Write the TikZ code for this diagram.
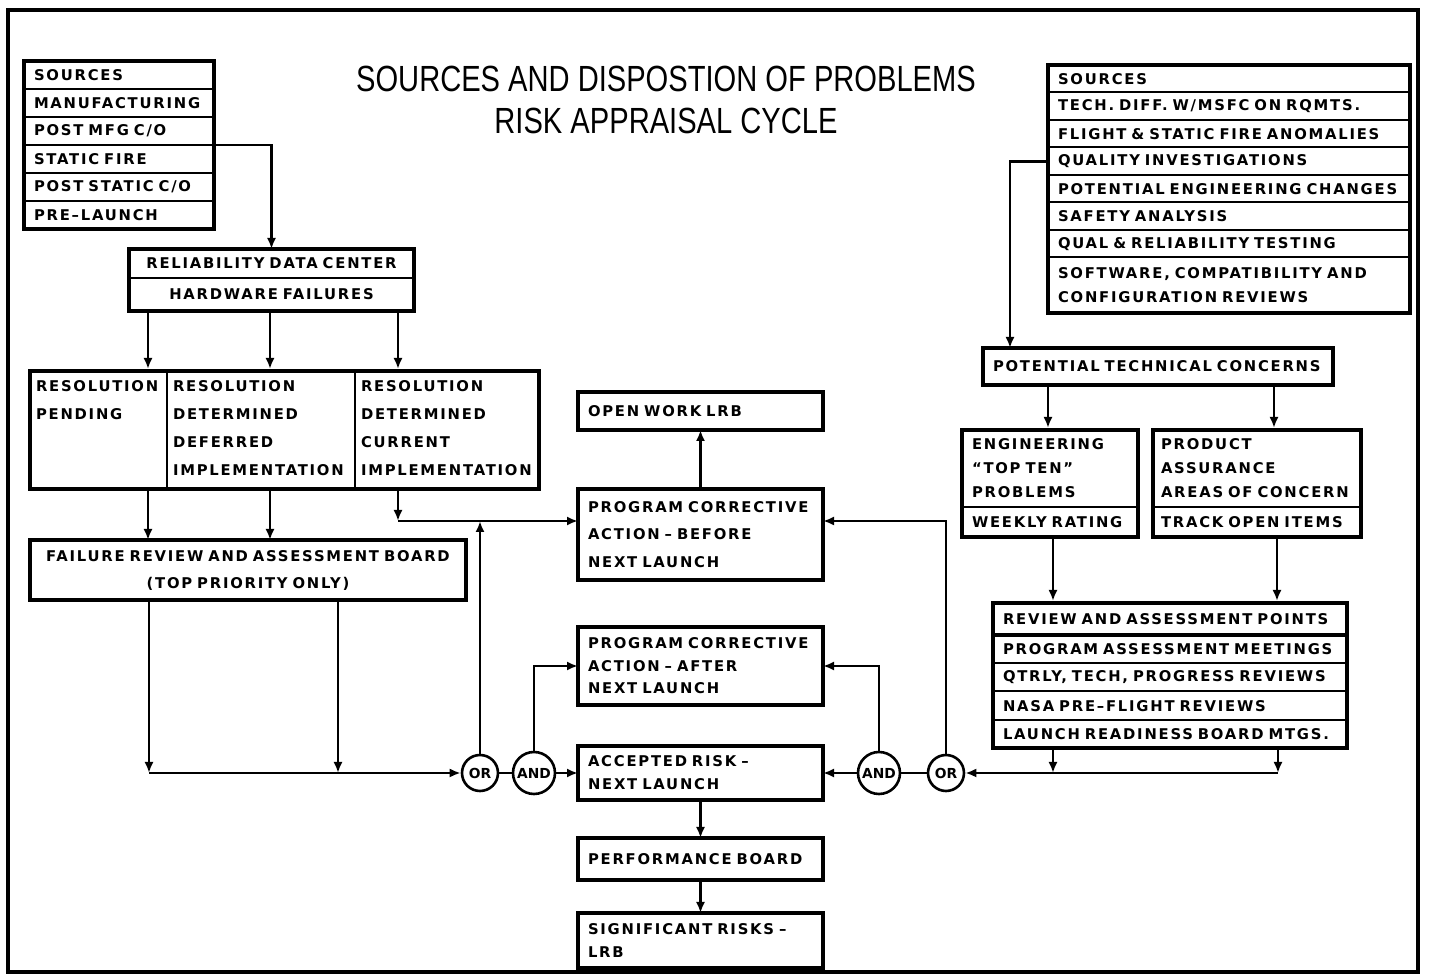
\documentclass[tikz,border=0pt]{standalone}
\usepackage{fontspec}
\usepackage{tikz}
\usetikzlibrary{arrows.meta, fit, positioning}
\newfontfamily\lblfont[LetterSpace=12, WordSpace=1.9]{DejaVu Sans}
\newfontfamily\gatefont{DejaVu Sans}
\newfontfamily\ttlfont[FakeStretch=0.8]{Liberation Sans}
\newcommand{\lbl}{\lblfont\bfseries\fontsize{7.4}{12}\selectfont}
\newcommand{\skp}[1]{\fontsize{7.4}{#1}\selectfont}
\newcommand{\gtf}{\gatefont\bfseries\fontsize{6.9}{7}\selectfont}

\tikzset{
  cell/.style={draw, line width=1pt, outer sep=0pt, inner xsep=5pt, inner ysep=0pt, align=left, font=\lbl},
  outer/.style={draw, line width=2pt, inner sep=0pt},
  tbox/.style={cell, line width=2pt},
  lsrow/.style={cell, text width=85pt, minimum height=14pt},
  rsrow/.style={cell, text width=171pt, minimum height=13.75pt},
  rdrow/.style={cell, text width=132.5pt, align=center},
  rescol/.style={cell, inner xsep=3pt, text height=10.5pt, text depth=48.5pt, font=\lbl\skp{14}},
  rvrow/.style={cell, text width=167pt, minimum height=14.125pt},
  ctr/.style={tbox, text width=112.5pt},
  gate/.style={draw, circle, line width=1.3pt, inner sep=0pt, fill=white, font=\gtf},
  link/.style={line width=1.4pt},
}

\begin{document}
\begin{tikzpicture}[x=0.5pt, y=-0.5pt, >={Latex[length=5.5pt, width=4.5pt]}]
\useasboundingbox (0,0) rectangle (1432,977);
\draw[line width=2pt] (8,10) rectangle (1418,972);
\node[font=\ttlfont\fontsize{18.2}{21}\selectfont, align=center] (title) at (666,100) {SOURCES AND DISPOSTION OF PROBLEMS\\RISK APPRAISAL CYCLE};

\node[lsrow, anchor=north west] (ls1) at (24,61) {SOURCES};
\node[lsrow, below=0pt of ls1] (ls2) {MANUFACTURING};
\node[lsrow, below=0pt of ls2] (ls3) {POST MFG C/O};
\node[lsrow, below=0pt of ls3] (ls4) {STATIC FIRE};
\node[lsrow, below=0pt of ls4] (ls5) {POST STATIC C/O};
\node[lsrow, below=0pt of ls5] (ls6) {PRE–LAUNCH};
\node[outer, fit=(ls1)(ls6)] (lsrc) {};

\node[rdrow, anchor=north west, minimum height=14.5pt] (r1) at (129,249) {RELIABILITY DATA CENTER};
\node[rdrow, below=0pt of r1, minimum height=16.5pt] (r2) {HARDWARE FAILURES};
\node[outer, fit=(r1)(r2)] (rdc) {};

\node[rescol, anchor=north west, text width=62.5pt] (c1) at (30,371) {RESOLUTION\\PENDING};
\node[rescol, right=0pt of c1, text width=88pt] (c2) {RESOLUTION\\DETERMINED\\DEFERRED\\IMPLEMENTATION};
\node[rescol, right=0pt of c2, text width=86pt] (c3) {RESOLUTION\\DETERMINED\\CURRENT\\IMPLEMENTATION};
\node[outer, fit=(c1)(c3)] (res) {};

\node[tbox, text width=208pt, minimum height=30pt, align=center, font=\lbl\skp{13.5}] (frab) at (248,570) {FAILURE REVIEW AND ASSESSMENT BOARD\\(TOP PRIORITY ONLY)};

\node[ctr, minimum height=19pt] (owl) at (700.5,411) {OPEN WORK LRB};
\node[ctr, minimum height=45.5pt, font=\lbl\skp{13.75}] (pcab) at (700.5,534.5) {PROGRAM CORRECTIVE\\ACTION – BEFORE\\NEXT LAUNCH};
\node[ctr, minimum height=39pt, font=\lbl\skp{11.25}] (pcaa) at (700.5,666) {PROGRAM CORRECTIVE\\ACTION – AFTER\\NEXT LAUNCH};
\node[ctr, minimum height=27pt, font=\lbl\skp{11.5}] (acc) at (700.5,773) {ACCEPTED RISK –\\NEXT LAUNCH};
\node[ctr, minimum height=21pt] (perf) at (700.5,859) {PERFORMANCE BOARD};
\node[ctr, minimum height=27.5pt, font=\lbl\skp{11.5}] (sig) at (700.5,940.5) {SIGNIFICANT RISKS –\\LRB};

\node[gate, minimum size=18pt] (orl) at (480,773) {OR};
\node[gate, minimum size=21pt] (andl) at (534,773) {AND};
\node[gate, minimum size=21pt] (andr) at (879,773) {AND};
\node[gate, minimum size=18pt] (orr) at (946,773) {OR};

\node[rsrow, anchor=north west] (rs1) at (1048,65) {SOURCES};
\node[rsrow, below=0pt of rs1] (rs2) {TECH. DIFF. W/MSFC ON RQMTS.};
\node[rsrow, below=0pt of rs2] (rs3) {FLIGHT \& STATIC FIRE ANOMALIES};
\node[rsrow, below=0pt of rs3] (rs4) {QUALITY INVESTIGATIONS};
\node[rsrow, below=0pt of rs4] (rs5) {POTENTIAL ENGINEERING CHANGES};
\node[rsrow, below=0pt of rs5] (rs6) {SAFETY ANALYSIS};
\node[rsrow, below=0pt of rs6] (rs7) {QUAL \& RELIABILITY TESTING};
\node[rsrow, below=0pt of rs7, minimum height=27.75pt] (rs8) {SOFTWARE, COMPATIBILITY AND\\CONFIGURATION REVIEWS};
\node[outer, fit=(rs1)(rs8)] (rsrc) {};

\node[tbox, text width=165pt, minimum height=18.5pt] (ptc) at (1158,366.5) {POTENTIAL TECHNICAL CONCERNS};

\node[cell, anchor=north west, text width=78pt, minimum height=38.5pt] (e1) at (962,430) {ENGINEERING\\“TOP TEN”\\PROBLEMS};
\node[cell, below=0pt of e1, text width=78pt, minimum height=15pt] (e2) {WEEKLY RATING};
\node[outer, fit=(e1)(e2)] (eng) {};
\node[cell, anchor=north west, inner xsep=4pt, text width=96pt, minimum height=38.5pt] (p1) at (1153,430) {PRODUCT\\ASSURANCE\\AREAS OF CONCERN};
\node[cell, below=0pt of p1, inner xsep=4pt, text width=96pt, minimum height=15pt] (p2) {TRACK OPEN ITEMS};
\node[outer, fit=(p1)(p2)] (pa) {};

\node[rvrow, anchor=north west, line width=2pt, minimum height=16pt] (rv1) at (993,603) {REVIEW AND ASSESSMENT POINTS};
\node[rvrow, below=0pt of rv1] (rv2) {PROGRAM ASSESSMENT MEETINGS};
\node[rvrow, below=0pt of rv2] (rv3) {QTRLY, TECH, PROGRESS REVIEWS};
\node[rvrow, below=0pt of rv3] (rv4) {NASA PRE–FLIGHT REVIEWS};
\node[rvrow, below=0pt of rv4] (rv5) {LAUNCH READINESS BOARD MTGS.};
\node[outer, fit=(rv1)(rv5)] (rev) {};

\coordinate (jl) at (398,521);
\draw[link, ->] (ls3.south east) -| (r1.north);
\draw[link, ->] (rdc.south -| 148,0) -- (res.north -| 148,0);
\draw[link, ->] (rdc.south -| 270,0) -- (res.north -| 270,0);
\draw[link, ->] (rdc.south -| 398,0) -- (res.north -| 398,0);
\draw[link, ->] (res.south -| 148,0) -- (frab.north -| 148,0);
\draw[link, ->] (res.south -| 270,0) -- (frab.north -| 270,0);
\draw[link, ->] (res.south -| jl) -- (jl);
\draw[link, ->] (jl) -- (pcab.west |- jl);
\draw[link, ->] (orl) -- (orl |- jl);
\draw[link, ->] (frab.south -| 149,0) -- (orl -| 149,0);
\draw[link, ->] (frab.south -| 338,0) -- (orl -| 338,0);
\draw[link, ->] (orl -| 149,0) -- (orl);
\draw[link] (orl) -- (andl);
\draw[link, ->] (andl) -- (acc);
\draw[link, ->] (andl) |- (pcaa);
\draw[link, ->] (pcab) -- (owl);
\draw[link, ->] (acc) -- (perf);
\draw[link, ->] (perf) -- (sig);
\draw[link, ->] (rs4.west) -| (ptc.north -| 1010,0);
\draw[link, ->] (ptc.south -| 1048,0) -- (eng.north -| 1048,0);
\draw[link, ->] (ptc.south -| 1274,0) -- (pa.north -| 1274,0);
\draw[link, ->] (eng.south -| 1053,0) -- (rev.north -| 1053,0);
\draw[link, ->] (pa.south -| 1277,0) -- (rev.north -| 1277,0);
\draw[link, ->] (rev.south -| 1053,0) -- (orr -| 1053,0);
\draw[link, ->] (rev.south -| 1278,0) -- (orr -| 1278,0);
\draw[link, ->] (orr -| 1278,0) -- (orr);
\draw[link] (andr) -- (orr);
\draw[link, ->] (andr) -- (acc);
\draw[link, ->] (andr) |- (pcaa);
\draw[link, ->] (orr) |- (pcab.east |- jl);
\end{tikzpicture}
\end{document}
